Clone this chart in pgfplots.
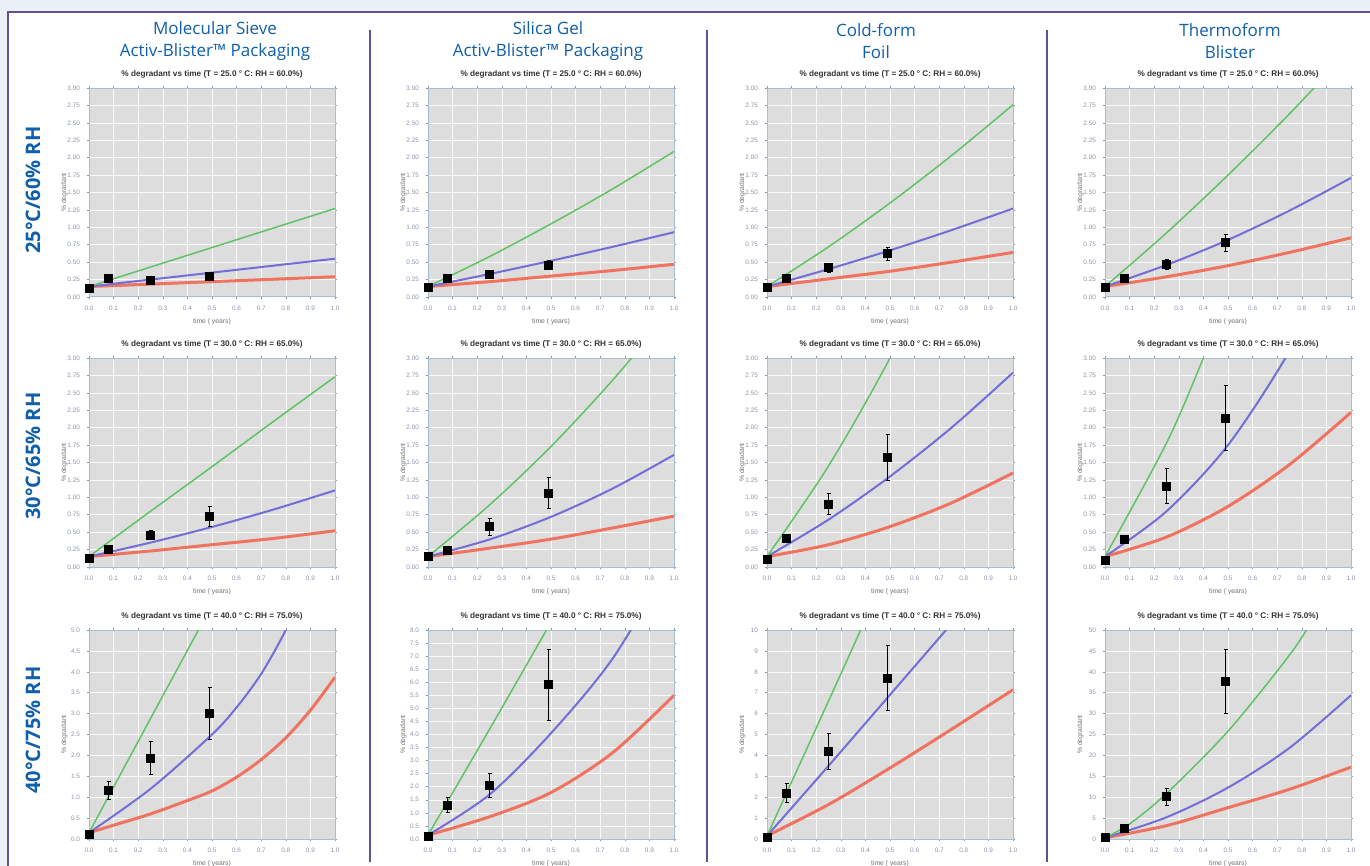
\documentclass[border=0pt]{standalone}
\usepackage{fontspec}
\setmainfont{Liberation Sans}
\newfontfamily\hdr{Open Sans}
\usepackage{pgfplots}
\pgfplotsset{compat=1.18}
\definecolor{hblue}{RGB}{16,95,170}
\definecolor{frm}{RGB}{100,80,150}
\definecolor{pbg}{RGB}{221,221,221}
\definecolor{outbg}{RGB}{236,241,248}
\definecolor{cg}{RGB}{95,195,100}
\definecolor{cb}{RGB}{115,110,215}
\definecolor{cr}{RGB}{240,115,95}
\definecolor{tickc}{RGB}{140,150,170}
\definecolor{bord}{RGB}{165,190,210}
\pgfplotsset{
  panel/.style={
    scale only axis, width=123pt, height=104.5pt, anchor=south west,
    xmin=0, xmax=1, ymin=0,
    axis background/.style={fill=pbg},
    axis line style={draw=bord, line width=0.5pt},
    grid=major, grid style={draw=white!85!pbg, line width=0.3pt},
    xtick={0,0.1,...,1.0},
    major tick length=1pt, tick style={draw=tickc, line width=0.3pt},
    tick align=outside,
    /pgf/number format/assume math mode=true,
    ticklabel style={font=\fontsize{3.2}{3.2}\selectfont, text=tickc},
    xticklabel style={/pgf/number format/.cd, fixed, fixed zerofill, precision=1},
    xlabel={time ( years)}, ylabel={\% degradant},
    every axis x label/.style={at={(axis description cs:0.5,-0.12)}, anchor=center,
      font=\fontsize{3.4}{3.4}\selectfont, text=black!55},
    every axis y label/.style={at={(axis description cs:-0.1,0.5)}, rotate=90, anchor=center,
      font=\fontsize{3.4}{3.4}\selectfont, text=black!55},
    every axis title/.style={at={(axis description cs:0.5,1)}, anchor=south, yshift=1.5pt,
      font=\bfseries\fontsize{4.1}{4.5}\selectfont, text=black!80},
  },
  rowab/.style={ymax=3, ytick={0,0.25,...,3.01},
    yticklabel style={/pgf/number format/.cd, fixed, fixed zerofill, precision=2}},
  gl/.style={cg, line width=0.75pt, smooth, mark=none},
  bl/.style={cb, line width=1pt, smooth, mark=none},
  rl/.style={cr, line width=1.5pt, smooth, mark=none},
  pts/.style={black, only marks, mark=square*, mark size=2pt,
    error bars/.cd, y dir=both, y explicit,
    error bar style={black, line width=0.4pt},
    error mark options={rotate=90, mark size=1pt, black, line width=0.4pt}},
}
\newcommand\tA{\% degradant vs time (T = 25.0 ° C: RH = 60.0\%)}
\newcommand\tB{\% degradant vs time (T = 30.0 ° C: RH = 65.0\%)}
\newcommand\tC{\% degradant vs time (T = 40.0 ° C: RH = 75.0\%)}
\begin{document}
\begin{tikzpicture}[x=0.5pt,y=-0.5pt]
\useasboundingbox (0,0) rectangle (1370,866);
\fill[outbg] (0,0) rectangle (1370,866);
\fill[white] (8,12) rectangle (1370,866);
\draw[frm, line width=0.8pt] (8,866) -- (8,12) -- (1370,12);
\foreach \sx in {370,707,1047} \draw[frm, line width=1.1pt] (\sx,30) -- (\sx,862);
% headers
\node[font=\hdr\fontsize{8.5}{11}\selectfont, text=hblue, align=center] at (215,41) {Molecular Sieve\\Activ-Blister™ Packaging};
\node[font=\hdr\fontsize{8.5}{11}\selectfont, text=hblue, align=center] at (548,41) {Silica Gel\\Activ-Blister™ Packaging};
\node[font=\hdr\fontsize{8.5}{11}\selectfont, text=hblue, align=center] at (876,41) {Cold-form\\Foil};
\node[font=\hdr\fontsize{8.5}{11}\selectfont, text=hblue, align=center] at (1230,41) {Thermoform\\Blister};
\node[rotate=90, font=\hdr\bfseries\fontsize{10}{12}\selectfont, text=hblue] at (33,190) {25°C/60\% RH};
\node[rotate=90, font=\hdr\bfseries\fontsize{10}{12}\selectfont, text=hblue] at (33,456) {30°C/65\% RH};
\node[rotate=90, font=\hdr\bfseries\fontsize{10}{12}\selectfont, text=hblue] at (33,730) {40°C/75\% RH};
% anchor coordinates (south west corners of axes)
\coordinate (c11) at (89,297);  \coordinate (c12) at (428,297);  \coordinate (c13) at (767,297);  \coordinate (c14) at (1105,297);
\coordinate (c21) at (89,567);  \coordinate (c22) at (428,567);  \coordinate (c23) at (767,567);  \coordinate (c24) at (1105,567);
\coordinate (c31) at (89,839);  \coordinate (c32) at (428,839);  \coordinate (c33) at (767,839);  \coordinate (c34) at (1105,839);

% ---------- Row 1 : 25C/60%RH ----------
\begin{axis}[panel, rowab, at={(c11)}, title={\tA}]
\addplot[rl] coordinates {(0,0.15) (0.5,0.22) (1,0.29)};
\addplot[bl] coordinates {(0,0.15) (0.5,0.35) (1,0.55)};
\addplot[gl] coordinates {(0,0.15) (0.5,0.71) (1,1.27)};
\addplot[pts] coordinates {(0,0.13) +- (0,0.03) (0.08,0.26) +- (0,0.03) (0.25,0.24) +- (0,0.03) (0.49,0.29) +- (0,0.04)};
\end{axis}
\begin{axis}[panel, rowab, at={(c12)}, title={\tA}]
\addplot[rl] coordinates {(0,0.15) (0.25,0.22) (0.5,0.30) (0.75,0.38) (1,0.47)};
\addplot[bl] coordinates {(0,0.15) (0.25,0.33) (0.5,0.52) (0.75,0.72) (1,0.93)};
\addplot[gl] coordinates {(0,0.15) (0.25,0.58) (0.5,1.05) (0.75,1.55) (1,2.09)};
\addplot[pts] coordinates {(0,0.14) +- (0,0.03) (0.08,0.27) +- (0,0.03) (0.25,0.33) +- (0,0.05) (0.49,0.46) +- (0,0.07)};
\end{axis}
\begin{axis}[panel, rowab, at={(c13)}, title={\tA}]
\addplot[rl] coordinates {(0,0.15) (0.25,0.26) (0.5,0.37) (0.75,0.50) (1,0.64)};
\addplot[bl] coordinates {(0,0.15) (0.25,0.40) (0.5,0.67) (0.75,0.96) (1,1.27)};
\addplot[gl] coordinates {(0,0.15) (0.25,0.72) (0.5,1.35) (0.75,2.03) (1,2.76)};
\addplot[pts] coordinates {(0,0.14) +- (0,0.03) (0.08,0.27) +- (0,0.04) (0.25,0.42) +- (0,0.06) (0.49,0.62) +- (0,0.09)};
\end{axis}
\begin{axis}[panel, rowab, at={(c14)}, title={\tA}]
\addplot[rl] coordinates {(0,0.15) (0.25,0.29) (0.5,0.45) (0.75,0.64) (1,0.85)};
\addplot[bl] coordinates {(0,0.15) (0.25,0.46) (0.5,0.82) (0.75,1.24) (1,1.71)};
\addplot[gl] coordinates {(0,0.15) (0.25,0.92) (0.5,1.75) (0.75,2.63) (1,3.57)};
\addplot[pts] coordinates {(0,0.14) +- (0,0.03) (0.08,0.26) +- (0,0.04) (0.25,0.47) +- (0,0.07) (0.49,0.78) +- (0,0.12)};
\end{axis}

% ---------- Row 2 : 30C/65%RH ----------
\begin{axis}[panel, rowab, at={(c21)}, title={\tB}]
\addplot[rl] coordinates {(0,0.15) (0.25,0.23) (0.5,0.32) (0.75,0.41) (1,0.52)};
\addplot[bl] coordinates {(0,0.15) (0.25,0.35) (0.5,0.575) (0.75,0.825) (1,1.10)};
\addplot[gl] coordinates {(0,0.15) (0.25,0.80) (0.5,1.44) (0.75,2.09) (1,2.73)};
\addplot[pts] coordinates {(0,0.12) +- (0,0.03) (0.08,0.25) +- (0,0.03) (0.25,0.46) +- (0,0.07) (0.49,0.73) +- (0,0.14)};
\end{axis}
\begin{axis}[panel, rowab, at={(c22)}, title={\tB}]
\addplot[rl] coordinates {(0,0.15) (0.25,0.27) (0.5,0.40) (0.75,0.56) (1,0.73)};
\addplot[bl] coordinates {(0,0.15) (0.25,0.395) (0.5,0.72) (0.75,1.125) (1,1.61)};
\addplot[gl] coordinates {(0,0.15) (0.25,0.89) (0.5,1.73) (0.75,2.68) (1,3.73)};
\addplot[pts] coordinates {(0,0.15) +- (0,0.02) (0.08,0.24) +- (0,0.04) (0.25,0.58) +- (0,0.12) (0.49,1.06) +- (0,0.22)};
\end{axis}
\begin{axis}[panel, rowab, at={(c23)}, title={\tB}]
\addplot[rl] coordinates {(0,0.15) (0.25,0.32) (0.5,0.58) (0.75,0.92) (1,1.35)};
\addplot[bl] coordinates {(0,0.15) (0.25,0.68) (0.5,1.30) (0.75,2.00) (1,2.79)};
\addplot[gl] coordinates {(0,0.15) (0.25,1.45) (0.5,3.0) (0.75,4.8)};
\addplot[pts] coordinates {(0,0.11) +- (0,0.03) (0.08,0.41) +- (0,0.06) (0.25,0.90) +- (0,0.15) (0.49,1.58) +- (0,0.33)};
\end{axis}
\begin{axis}[panel, rowab, at={(c24)}, title={\tB}]
\addplot[rl] coordinates {(0,0.15) (0.25,0.43) (0.5,0.87) (0.75,1.47) (1,2.22)};
\addplot[bl] coordinates {(0,0.15) (0.25,0.80) (0.5,1.75) (0.75,3.1) (1,4.8)};
\addplot[gl] coordinates {(0,0.15) (0.25,1.78) (0.4,3.0) (0.5,3.9)};
\addplot[pts] coordinates {(0,0.10) +- (0,0.03) (0.08,0.40) +- (0,0.06) (0.25,1.16) +- (0,0.25) (0.49,2.14) +- (0,0.47)};
\end{axis}

% ---------- Row 3 : 40C/75%RH ----------
\begin{axis}[panel, at={(c31)}, title={\tC}, ymax=5, ytick={0,0.5,...,5.01},
  yticklabel style={/pgf/number format/.cd, fixed, fixed zerofill, precision=1}]
\addplot[rl] coordinates {(0,0.15) (0.1,0.33) (0.25,0.6) (0.4,0.92) (0.5,1.15) (0.6,1.48) (0.7,1.9) (0.8,2.42) (0.9,3.08) (1,3.87)};
\addplot[bl] coordinates {(0,0.15) (0.25,1.2) (0.5,2.5) (0.6,3.15) (0.7,3.95) (0.8,5.0) (0.9,6.3)};
\addplot[gl] coordinates {(0,0.15) (0.25,2.88) (0.5,5.6)};
\addplot[pts] coordinates {(0,0.10) +- (0,0.03) (0.08,1.16) +- (0,0.22) (0.25,1.94) +- (0,0.40) (0.49,3.01) +- (0,0.62)};
\end{axis}
\begin{axis}[panel, at={(c32)}, title={\tC}, ymax=8, ytick={0,0.5,...,8.01},
  yticklabel style={/pgf/number format/.cd, fixed, fixed zerofill, precision=1}]
\addplot[rl] coordinates {(0,0.15) (0.25,0.85) (0.5,1.78) (0.75,3.3) (1,5.5)};
\addplot[bl] coordinates {(0,0.15) (0.25,1.7) (0.5,4.05) (0.75,6.9) (1,10.8)};
\addplot[gl] coordinates {(0,0.15) (0.25,4.2) (0.5,8.3)};
\addplot[pts] coordinates {(0,0.10) +- (0,0.05) (0.08,1.30) +- (0,0.28) (0.25,2.05) +- (0,0.45) (0.49,5.9) +- (0,1.35)};
\end{axis}
\begin{axis}[panel, at={(c33)}, title={\tC}, ymax=10, ytick={0,1,...,10}]
\addplot[rl] coordinates {(0,0.15) (0.25,1.65) (0.5,3.4) (0.75,5.25) (1,7.14)};
\addplot[bl] coordinates {(0,0.15) (0.25,3.5) (0.5,6.9) (0.75,10.3)};
\addplot[gl] coordinates {(0,0.15) (0.25,6.6) (0.4,10.5)};
\addplot[pts] coordinates {(0,0.10) +- (0,0.05) (0.08,2.2) +- (0,0.45) (0.25,4.2) +- (0,0.85) (0.49,7.7) +- (0,1.55)};
\end{axis}
\begin{axis}[panel, at={(c34)}, title={\tC}, ymax=50, ytick={0,5,...,50}]
\addplot[rl] coordinates {(0,0.3) (0.25,3.2) (0.5,7.5) (0.75,11.9) (1,17.2)};
\addplot[bl] coordinates {(0,0.3) (0.25,5.2) (0.5,12.3) (0.75,21.8) (1,34.4)};
\addplot[gl] coordinates {(0,0.3) (0.1,3.6) (0.25,10.9) (0.5,25.8) (0.75,44) (0.85,53)};
\addplot[pts] coordinates {(0,0.3) +- (0,0.2) (0.08,2.6) +- (0,0.6) (0.25,10.1) +- (0,2.0) (0.49,37.7) +- (0,7.6)};
\end{axis}
\end{tikzpicture}
\end{document}
